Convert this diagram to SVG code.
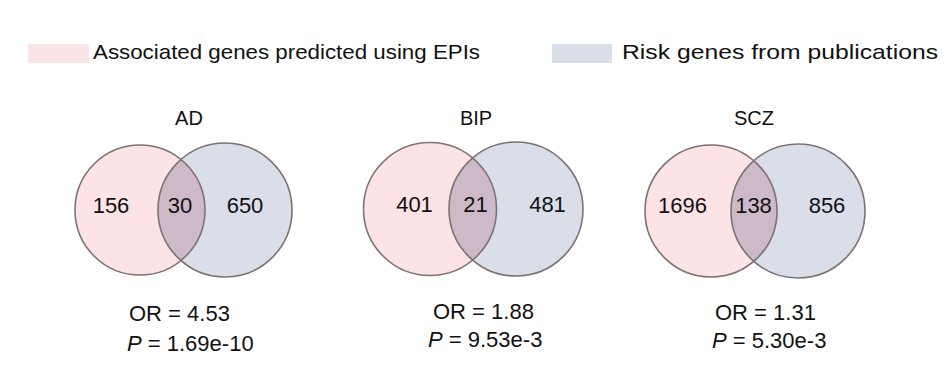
<svg xmlns="http://www.w3.org/2000/svg" width="948" height="385" viewBox="0 0 948 385">
<style>
text{font-family:"Liberation Sans",Arial,sans-serif;fill:#111;}
.lg{font-size:21px;}
.ttl{font-size:20px;text-anchor:middle;}
.num{font-size:22px;text-anchor:middle;}
.st{font-size:22px;}
.pink{fill:#fce3e6;}
.blue{fill:#d9dee8;}
.ov{fill:#cdb9c8;}
.ring{fill:none;stroke:#7d7373;stroke-width:1.6;}
</style>
<defs>
<clipPath id="cAD"><circle cx="140" cy="210" r="65"/></clipPath>
<clipPath id="cBIP"><circle cx="430" cy="209" r="66.5"/></clipPath>
<clipPath id="cSCZ"><circle cx="711" cy="211" r="66"/></clipPath>
</defs>
<rect width="948" height="385" fill="#fff"/>
<g id="legend">
<rect class="pink" x="28" y="44" width="61" height="19"/>
<text class="lg" x="93" y="59" textLength="387" lengthAdjust="spacingAndGlyphs">Associated genes predicted using EPIs</text>
<rect class="blue" x="552" y="44" width="60" height="19"/>
<text class="lg" x="622" y="59" textLength="316" lengthAdjust="spacingAndGlyphs">Risk genes from publications</text>
</g>
<g id="AD">
<text class="ttl" x="189" y="125">AD</text>
<circle class="pink" cx="140" cy="210" r="65"/>
<circle class="blue" cx="225" cy="210" r="67"/>
<circle class="ov" cx="225" cy="210" r="67" clip-path="url(#cAD)"/>
<circle class="ring" cx="140" cy="210" r="65"/>
<circle class="ring" cx="225" cy="210" r="67"/>
<text class="num" x="111" y="213">156</text>
<text class="num" x="180" y="213">30</text>
<text class="num" x="245" y="213">650</text>
<text class="st" x="129" y="321">OR = 4.53</text>
<text class="st" x="127" y="351"><tspan font-style="italic">P</tspan> = 1.69e-10</text>
</g>
<g id="BIP">
<text class="ttl" x="476" y="125">BIP</text>
<circle class="pink" cx="430" cy="209" r="66.5"/>
<circle class="blue" cx="516" cy="209" r="67"/>
<circle class="ov" cx="516" cy="209" r="67" clip-path="url(#cBIP)"/>
<circle class="ring" cx="430" cy="209" r="66.5"/>
<circle class="ring" cx="516" cy="209" r="67"/>
<text class="num" x="414.5" y="212">401</text>
<text class="num" x="475.5" y="212">21</text>
<text class="num" x="547.5" y="212">481</text>
<text class="st" x="433" y="319">OR = 1.88</text>
<text class="st" x="428" y="347"><tspan font-style="italic">P</tspan> = 9.53e-3</text>
</g>
<g id="SCZ">
<text class="ttl" x="754" y="125">SCZ</text>
<circle class="pink" cx="711" cy="211" r="66"/>
<circle class="blue" cx="798" cy="211" r="67"/>
<circle class="ov" cx="798" cy="211" r="67" clip-path="url(#cSCZ)"/>
<circle class="ring" cx="711" cy="211" r="66"/>
<circle class="ring" cx="798" cy="211" r="67"/>
<text class="num" x="682.5" y="213">1696</text>
<text class="num" x="753.5" y="213">138</text>
<text class="num" x="827" y="213">856</text>
<text class="st" x="715" y="320">OR = 1.31</text>
<text class="st" x="712" y="348"><tspan font-style="italic">P</tspan> = 5.30e-3</text>
</g>
<g id="connectors"/>
</svg>
